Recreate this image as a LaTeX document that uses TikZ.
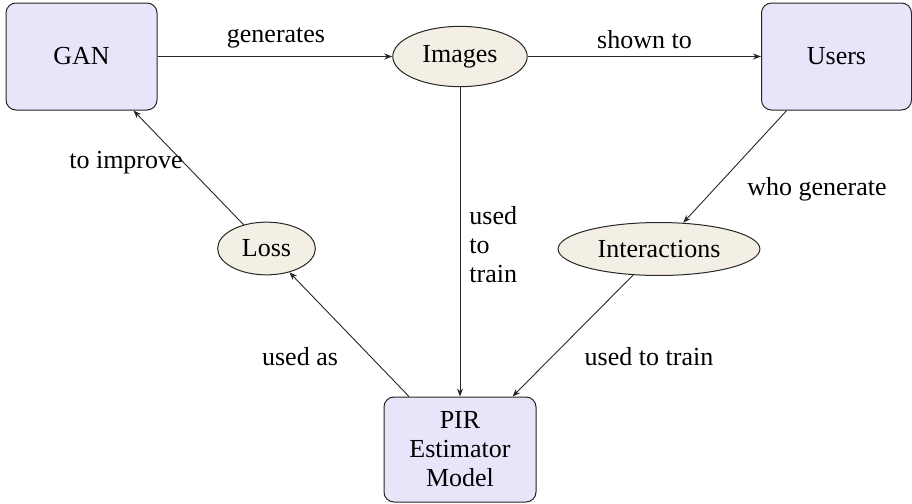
\documentclass[tikz,border=0pt]{standalone}
\usepackage{fontspec}
\setmainfont{Liberation Serif}
\usetikzlibrary{shapes.geometric,arrows.meta}
\definecolor{boxfill}{RGB}{231,229,250}
\definecolor{ellfill}{RGB}{243,239,228}
\tikzset{
  every node/.style={font=\fontsize{13}{14.5}\selectfont},
  box/.style={draw=black!85, fill=boxfill, rounded corners=5pt, line width=0.5pt, align=center, inner sep=0pt},
  ell/.style={draw=black!85, fill=ellfill, ellipse, line width=0.5pt, inner sep=5pt},
  conn/.style={draw=black!85, line width=0.45pt, -{Stealth[length=4pt,width=3pt]}},
  lbl/.style={inner sep=0pt}
}
\begin{document}
\begin{tikzpicture}[x=0.5pt,y=-0.5pt]
\useasboundingbox (0,0) rectangle (912,504);
\node[box, minimum width=75.5pt, minimum height=53.5pt] (gan) at (81.5,56.5) {GAN};
\node[ell] (img) at (460,56.5) {Images};
\node[box, minimum width=75pt, minimum height=53.5pt] (users) at (836.5,56.5) {Users};
\node[ell] (loss) at (266.5,248.5) {Loss};
\node[ell] (inter) at (659,249) {Interactions};
\node[box, minimum width=76pt, minimum height=52.5pt] (pir) at (460,449.5) {PIR\\Estimator\\Model};

\draw[conn] (gan) -- (img);
\draw[conn] (img) -- (users);
\draw[conn] (users) -- (inter);
\draw[conn] (img) -- (pir);
\draw[conn] (inter) -- (pir);
\draw[conn] (pir) -- (loss);
\draw[conn] (loss) -- (gan);

\node[lbl, anchor=south] (l1) at (276,49) {generates};
\node[lbl, anchor=south] (l2) at (644.5,49) {shown to};
\node[lbl] (l3) at (126,163) {to improve};
\node[lbl] (l4) at (817,189) {who generate};
\node[lbl, align=left, anchor=west] (l5) at (469,245) {used\\to\\train};
\node[lbl] (l6) at (300,357) {used as};
\node[lbl] (l7) at (649,357) {used to train};
\end{tikzpicture}
\end{document}
